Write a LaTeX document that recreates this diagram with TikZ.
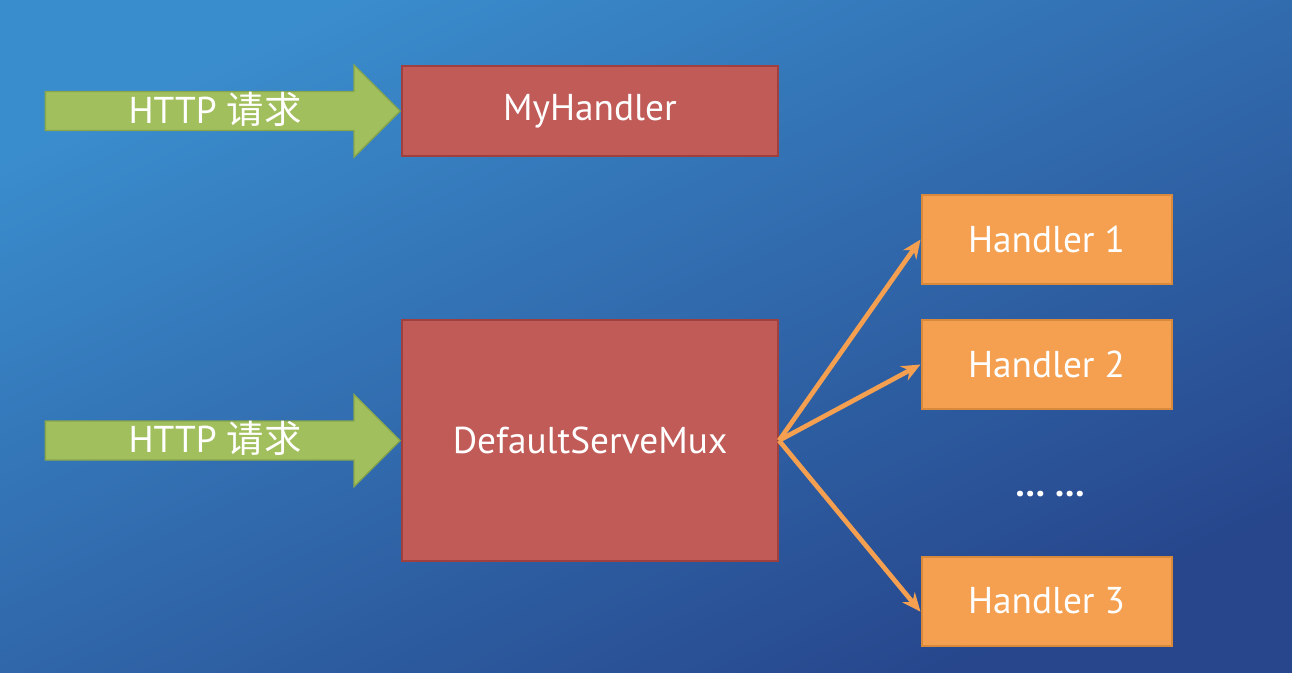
\documentclass[tikz,border=0pt]{standalone}
\usepackage{fontspec}
\setmainfont{PT Sans}
\newfontfamily\cjk{Noto Sans CJK SC}
\usetikzlibrary{shapes.arrows,arrows.meta}
\definecolor{bgtop}{HTML}{3A8DCD}
\definecolor{bgbot}{HTML}{27468C}
\definecolor{boxred}{HTML}{C15B58}
\definecolor{boxredline}{HTML}{A0403E}
\definecolor{boxorange}{HTML}{F4A050}
\definecolor{boxorangeline}{HTML}{D8893C}
\definecolor{reqgreen}{HTML}{A2BF5E}
\definecolor{reqgreenline}{HTML}{88A74A}
\begin{document}
\begin{tikzpicture}[>={Stealth[length=14pt,width=12pt]},x=0.75pt,y=-0.75pt,
 every node/.style={text=white,font=\fontsize{28}{32}\selectfont},
 muxbox/.style={draw=boxredline,fill=boxred,line width=1.5pt,minimum width=282pt},
 handlerbox/.style={draw=boxorangeline,fill=boxorange,line width=1.5pt,minimum width=187.5pt,minimum height=66.75pt},
 request/.style={single arrow,draw=reqgreenline,fill=reqgreen,line width=1pt,
  minimum height=266pt,minimum width=69pt,single arrow head extend=18pt,
  inner ysep=0pt,text height=22pt,text depth=3.5pt},
 route/.style={->,draw=boxorange,line width=3.5pt}]
 \shade[top color=bgtop,bottom color=bgbot,shading angle=25] (0,0) rectangle (1292,672);
 \useasboundingbox (0,0) rectangle (1292,672);
 \node[muxbox,minimum height=67.5pt] (my) at (590,111) {MyHandler};
 \node[muxbox,minimum height=180.75pt] (mux) at (590,440.5) {DefaultServeMux};
 \node[request,anchor=tip] (req1) at (my.west) {\hspace*{3pt}HTTP {\cjk 请求}};
 \node[request,anchor=tip] (req2) at (mux.west) {\hspace*{3pt}HTTP {\cjk 请求}};
 \node[handlerbox] (h1) at (1046.5,239.5) {Handler 1};
 \node[handlerbox] (h2) at (1046.5,364.5) {Handler 2};
 \node[handlerbox] (h3) at (1046.5,601) {Handler 3};
 \node[font=\bfseries\fontsize{28}{32}\selectfont] (dots) at (1050,494) {… …};
 \draw[route] (mux.east) -- (h1.west);
 \draw[route] (mux.east) -- (h2.west);
 \draw[route] (mux.east) -- ([yshift=-8pt]h3.west);
\end{tikzpicture}
\end{document}
